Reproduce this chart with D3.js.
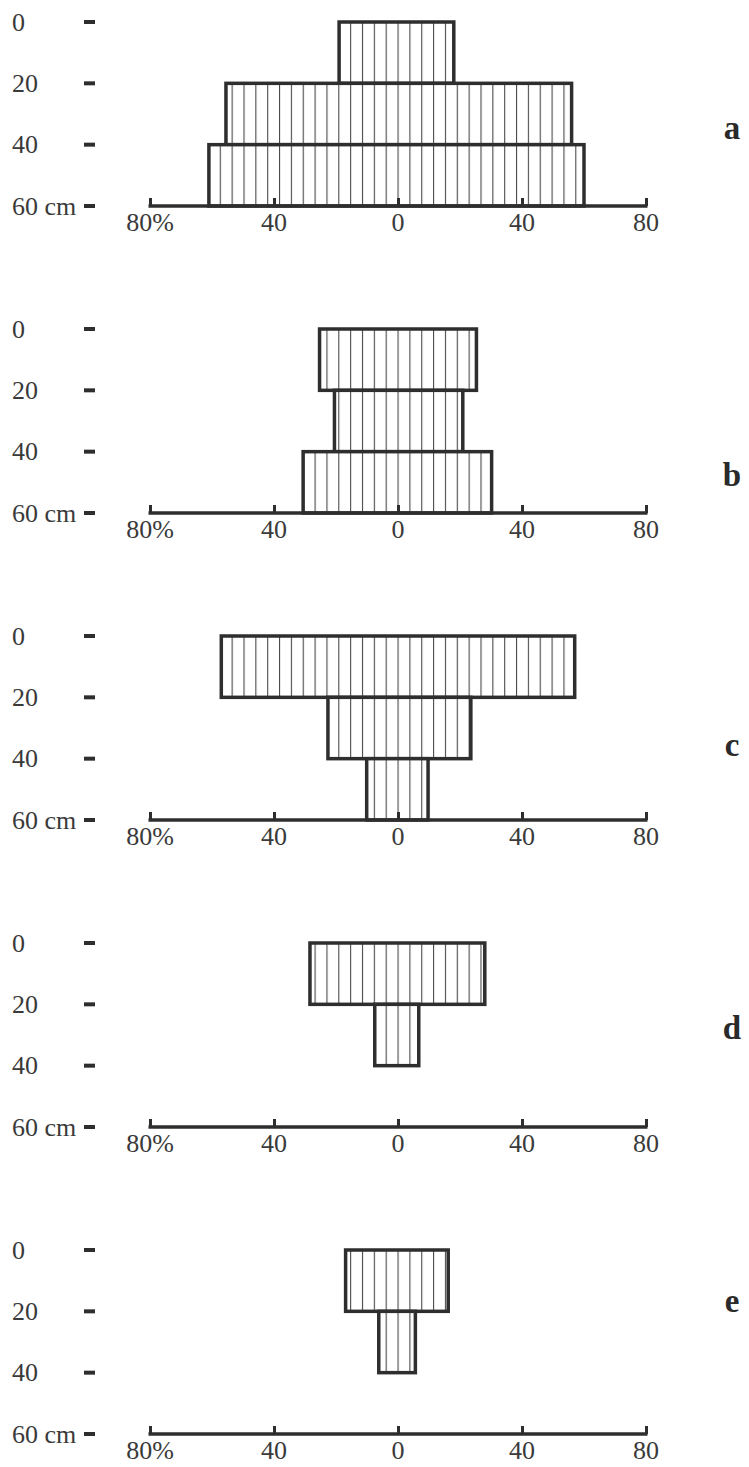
<!DOCTYPE html>
<html>
<head>
<meta charset="utf-8">
<script src="https://cdn.jsdelivr.net/npm/d3@7"></script>
<style>
  html, body { margin: 0; padding: 0; background: #fff; }
  svg { display: block; }
</style>
</head>
<body>
<svg id="chart" width="749" height="1467"></svg>
<script>
// ---- data ----
const panelNames = ["a", "b", "c", "d", "e"];
const depthTicks = [0, 20, 40, 60];
const depthTickLabels = ["0", "20", "40", "60 cm"];
const pctTicks = [-80, -40, 0, 40, 80];
const pctTickLabels = ["80%", "40", "0", "40", "80"];
const layerTops = [0, 20, 40];           // cm, each layer 20 cm thick
const layerThickness = 20;
// percentage extents to the left (L) and right (R) of the centre, per layer
const aLeft = [19, 55.5, 61],  aRight = [18, 56, 60];
const bLeft = [25.3, 20.5, 30.6], bRight = [25.3, 20.9, 30.2];
const cLeft = [57, 22.6, 10.1], cRight = [57, 23.5, 9.7];
const dLeft = [28.4, 7.5], dRight = [28, 6.7];
const eLeft = [16.9, 6.2], eRight = [16.2, 5.6];
const leftVals = [aLeft, bLeft, cLeft, dLeft, eLeft];
const rightVals = [aRight, bRight, cRight, dRight, eRight];

// ---- layout ----
const firstTop = 22, panelStep = 307, panelH = 184;
const labelDepth = [35, 48, 36, 28, 17];
const font = "'Liberation Serif', 'Times New Roman', serif";
const ink = "#2e2e2e";

const svg = d3.select("#chart");
const x = d3.scaleLinear().domain([-80, 80]).range([150, 646]);

const defs = svg.append("defs");
const hatch = defs.append("pattern")
  .attr("id", "hatch")
  .attr("patternUnits", "userSpaceOnUse")
  .attr("x", x(0) - 0.5)
  .attr("y", 0)
  .attr("width", 11.85)
  .attr("height", 10);
hatch.append("rect").attr("width", 11.85).attr("height", 10).attr("fill", "#fff");
hatch.append("line")
  .attr("x1", 0.5).attr("x2", 0.5).attr("y1", 0).attr("y2", 10)
  .attr("stroke", "#4a4a4a").attr("stroke-width", 1.2);

panelNames.forEach((name, i) => {
  const top = firstTop + i * panelStep;
  const y = d3.scaleLinear().domain([0, 60]).range([top, top + panelH]);
  const g = svg.append("g");

  // y ticks (short dashes) and labels
  depthTicks.forEach((d, k) => {
    g.append("line")
      .attr("x1", 84).attr("x2", 95)
      .attr("y1", y(d)).attr("y2", y(d))
      .attr("stroke", ink).attr("stroke-width", 4);
    g.append("text")
      .attr("x", 12).attr("y", y(d))
      .attr("dy", "0.33em")
      .attr("font-family", font).attr("font-size", 26)
      .attr("fill", "#3a3a3a")
      .text(depthTickLabels[k]);
  });

  // bars
  const rows = leftVals[i].map((l, k) => ({
    top: layerTops[k], left: -l, right: rightVals[i][k]
  }));
  g.selectAll("rect.bar").data(rows).enter().append("rect")
    .attr("class", "bar")
    .attr("x", d => x(d.left))
    .attr("y", d => y(d.top))
    .attr("width", d => x(d.right) - x(d.left))
    .attr("height", d => y(d.top + layerThickness) - y(d.top))
    .attr("fill", "url(#hatch)")
    .attr("stroke", ink).attr("stroke-width", 3.5);

  // x axis
  const axisY = y(60);
  const axis = d3.axisTop(x).tickValues(pctTicks).tickSize(8).tickFormat("");
  const ag = g.append("g").attr("transform", `translate(0,${axisY})`).call(axis);
  ag.select(".domain").remove();
  ag.selectAll(".tick line").attr("stroke", ink).attr("stroke-width", 3);
  g.append("line")
    .attr("x1", x(-80) - 1.5).attr("x2", x(80) + 1.5)
    .attr("y1", axisY).attr("y2", axisY)
    .attr("stroke", ink).attr("stroke-width", 3.5);
  pctTicks.forEach((t, k) => {
    g.append("text")
      .attr("x", x(t)).attr("y", axisY + 25)
      .attr("text-anchor", "middle")
      .attr("font-family", font).attr("font-size", 26)
      .attr("fill", "#3a3a3a")
      .text(pctTickLabels[k]);
  });

  // panel letter
  g.append("text")
    .attr("x", 732).attr("y", y(labelDepth[i]))
    .attr("dy", "0.3em")
    .attr("text-anchor", "middle")
    .attr("font-family", font).attr("font-size", 33).attr("font-weight", "bold")
    .attr("fill", "#2a2a2a")
    .text(name);
});
</script>
</body>
</html>
